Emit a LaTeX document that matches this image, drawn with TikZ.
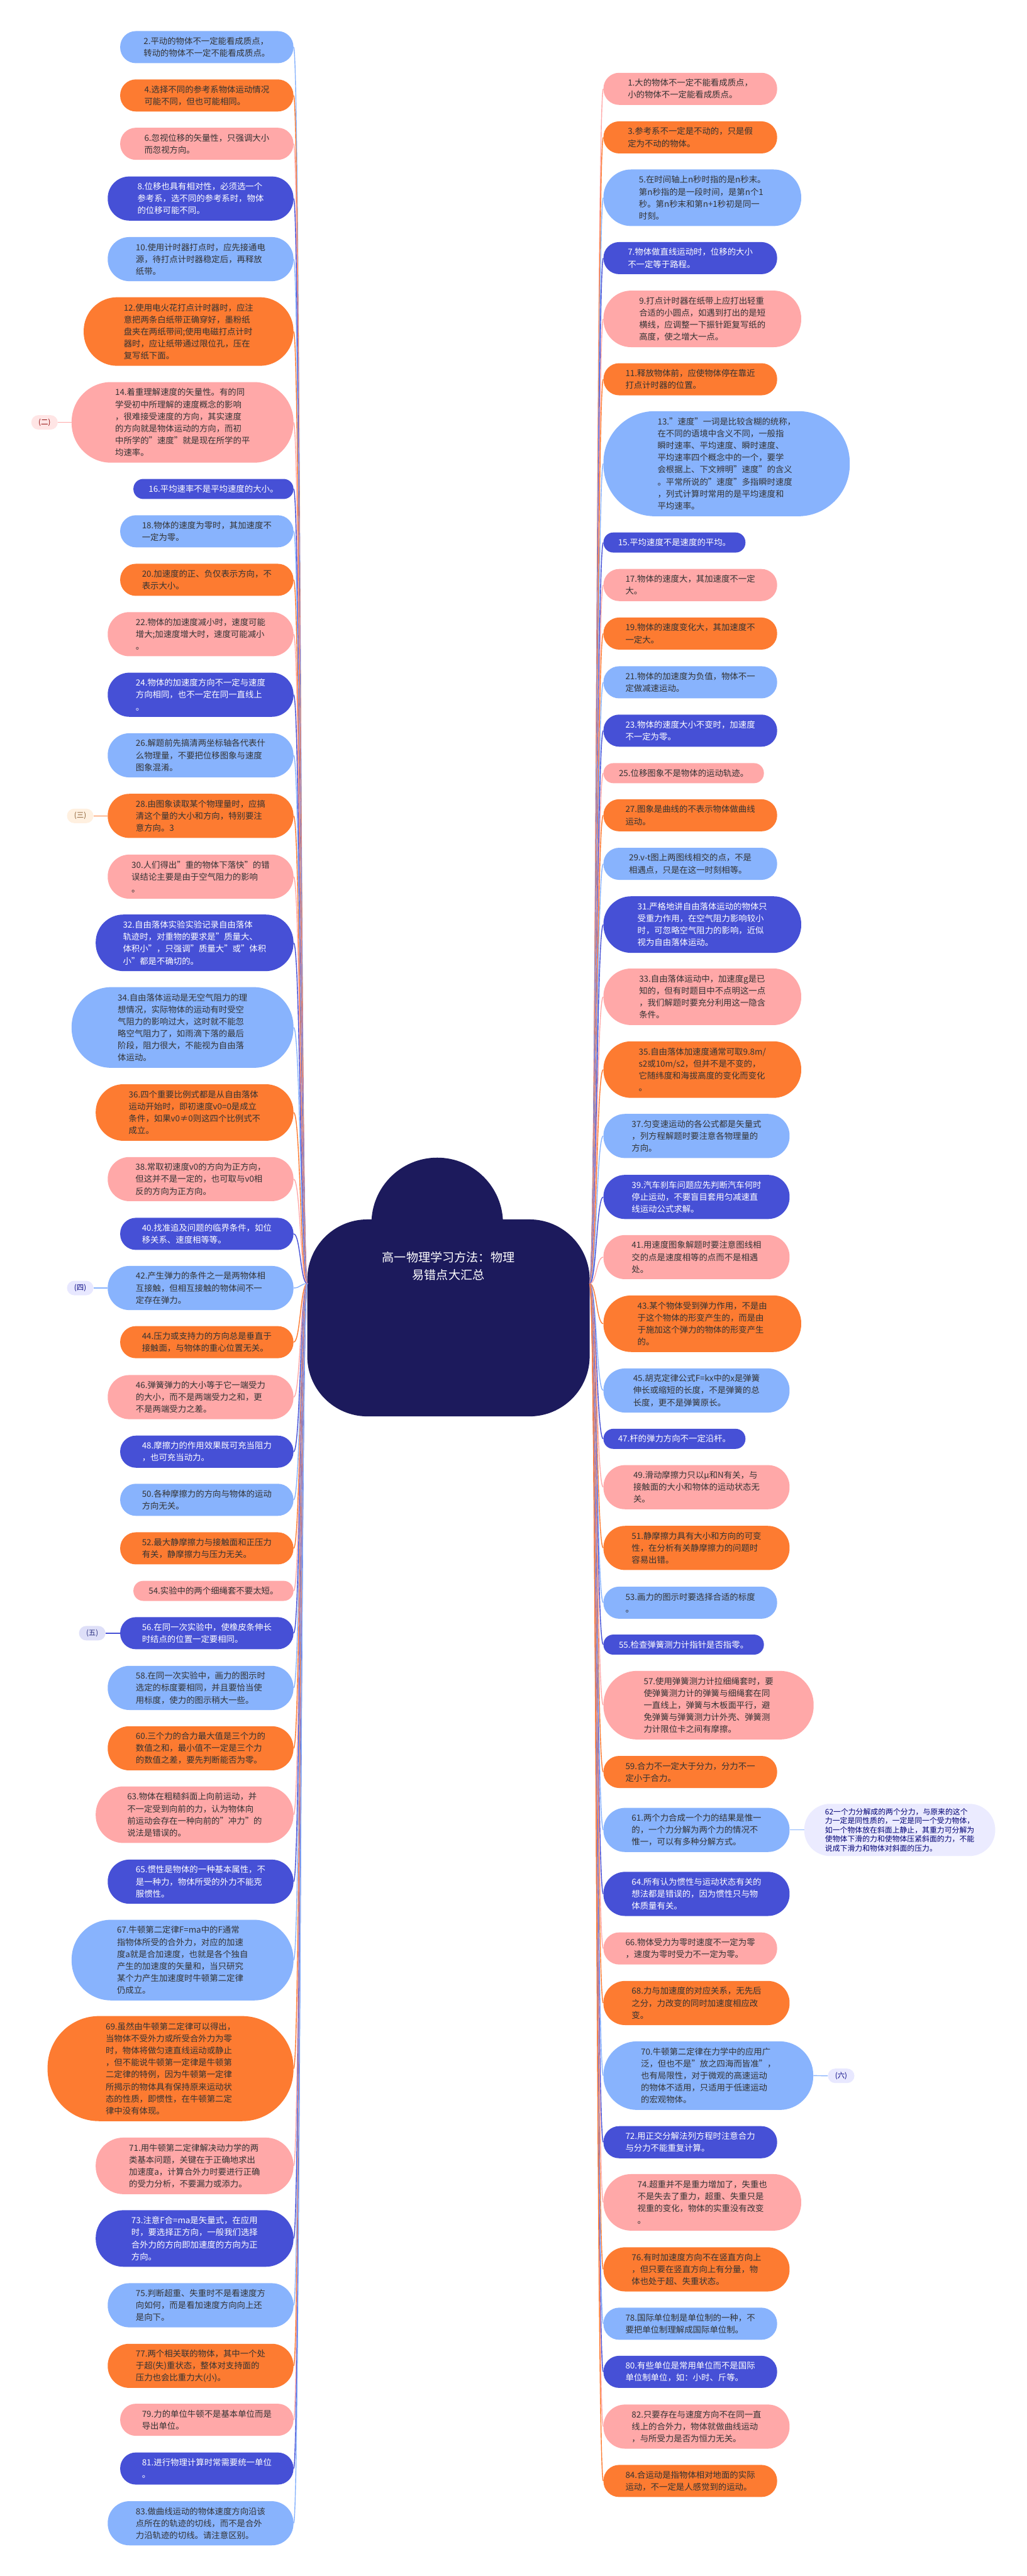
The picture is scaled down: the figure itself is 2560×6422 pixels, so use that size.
\documentclass[tikz,border=0pt]{standalone}
\usepackage{fontspec}
\setmainfont{Noto Sans CJK SC}
\usepackage{tikz}
\usepackage{xcolor}
\usetikzlibrary{calc}
\definecolor{pinkfill}{HTML}{FFA8A8}
\definecolor{orangefill}{HTML}{FD7B31}
\definecolor{skyfill}{HTML}{88B3FD}
\definecolor{indigofill}{HTML}{4650D6}
\definecolor{rootfill}{HTML}{1C1A5C}
\definecolor{itemtext}{HTML}{333333}
\tikzstyle{item} =
  [ rectangle
  , align=left
  , inner sep=0pt
  , font=\fontsize{10.5pt}{15pt}\selectfont
  ]
\tikzstyle{pink_item}   = [item, fill=pinkfill, text=itemtext]
\tikzstyle{orange_item} = [item, fill=orangefill, text=itemtext]
\tikzstyle{sky_item}    = [item, fill=skyfill, text=itemtext]
\tikzstyle{indigo_item} = [item, fill=indigofill, text=white]
\tikzstyle{left_item}   = [anchor=east]
\tikzstyle{right_item}  = [anchor=west]
\tikzstyle{link}        = [line width=1.1pt]
\tikzstyle{pink_link}   = [link, draw=pinkfill]
\tikzstyle{orange_link} = [link, draw=orangefill]
\tikzstyle{sky_link}    = [link, draw=skyfill]
\tikzstyle{indigo_link} = [link, draw=indigofill]
\tikzstyle{side_tag} =
  [ rectangle
  , rounded corners=9pt
  , minimum width=33pt
  , minimum height=18pt
  , inner sep=0pt
  , font=\fontsize{9pt}{11pt}\selectfont
  ]
\tikzstyle{root_label} =
  [ align=center
  , text=white
  , font=\fontsize{15pt}{22pt}\selectfont
  ]
\tikzstyle{side_note} =
  [ rectangle
  , rounded corners=32pt
  , fill=blue!8
  , text=blue!45!black
  , align=left
  , inner sep=0pt
  , minimum width=238pt
  , minimum height=65pt
  , font=\fontsize{9.3pt}{11.4pt}\selectfont
  ]
\tikzset{item_size/.style 2 args={minimum width=#1*0.5pt, minimum height=#2*0.5pt, rounded corners=#2*0.245pt}}

\begin{document}
\begin{tikzpicture}[x=0.5pt, y=-0.5pt]
  \useasboundingbox (0,0) rectangle (2560,6422);
  \fill[white] (0,0) rectangle (2560,6422);

  \fill[rootfill] (766,3040) [rounded corners=75pt] rectangle (1470,3531);
  \fill[rootfill] (1090,3050) circle [radius=82pt];
  \node[root_label] (root) at (1118,3156) {高一物理学习方法：物理\\易错点大汇总};
  \coordinate (lroot) at (766,3200);
  \coordinate (rroot) at (1470,3200);

  % left side
  \node[sky_item,left_item,item_size={432}{80}] (n2) at (732,117.5) {2.平动的物体不一定能看成质点，\\转动的物体不一定不能看成质点。};
  \draw[sky_link] (lroot) .. controls +(-17,0) and +(17,0) .. (n2.east);
  \node[orange_item,left_item,item_size={432}{80}] (n4) at (732,238) {4.选择不同的参考系物体运动情况\\可能不同，但也可能相同。};
  \draw[orange_link] (lroot) .. controls +(-17,0) and +(17,0) .. (n4.east);
  \node[pink_item,left_item,item_size={432}{80}] (n6) at (732,358.5) {6.忽视位移的矢量性，只强调大小\\而忽视方向。};
  \draw[pink_link] (lroot) .. controls +(-17,0) and +(17,0) .. (n6.east);
  \node[indigo_item,left_item,item_size={463}{110}] (n8) at (732,495) {8.位移也具有相对性，必须选一个\\参考系，选不同的参考系时，物体\\的位移可能不同。};
  \draw[indigo_link] (lroot) .. controls +(-17,0) and +(17,0) .. (n8.east);
  \node[sky_item,left_item,item_size={463}{110}] (n10) at (732,646) {10.使用计时器打点时，应先接通电\\源，待打点计时器稳定后，再释放\\纸带。};
  \draw[sky_link] (lroot) .. controls +(-17,0) and +(17,0) .. (n10.east);
  \node[orange_item,left_item,item_size={523}{171}] (n12) at (732,826.5) {12.使用电火花打点计时器时，应注\\意把两条白纸带正确穿好，墨粉纸\\盘夹在两纸带间;使用电磁打点计时\\器时，应让纸带通过限位孔，压在\\复写纸下面。};
  \draw[orange_link] (lroot) .. controls +(-17,0) and +(17,0) .. (n12.east);
  \node[pink_item,left_item,item_size={553}{201}] (n14) at (732,1053) {14.着重理解速度的矢量性。有的同\\学受初中所理解的速度概念的影响\\，很难接受速度的方向，其实速度\\的方向就是物体运动的方向，而初\\中所学的"速度"就是现在所学的平\\均速率。};
  \draw[pink_link] (lroot) .. controls +(-17,0) and +(17,0) .. (n14.east);
  \node[indigo_item,left_item,item_size={399}{50}] (n16) at (732,1219) {16.平均速率不是平均速度的大小。};
  \draw[indigo_link] (lroot) .. controls +(-17,0) and +(17,0) .. (n16.east);
  \node[sky_item,left_item,item_size={432}{80}] (n18) at (732,1324.5) {18.物体的速度为零时，其加速度不\\一定为零。};
  \draw[sky_link] (lroot) .. controls +(-17,0) and +(17,0) .. (n18.east);
  \node[orange_item,left_item,item_size={432}{80}] (n20) at (732,1445.5) {20.加速度的正、负仅表示方向，不\\表示大小。};
  \draw[orange_link] (lroot) .. controls +(-17,0) and +(17,0) .. (n20.east);
  \node[pink_item,left_item,item_size={463}{110}] (n22) at (732,1581) {22.物体的加速度减小时，速度可能\\增大;加速度增大时，速度可能减小\\。};
  \draw[pink_link] (lroot) .. controls +(-17,0) and +(17,0) .. (n22.east);
  \node[indigo_item,left_item,item_size={463}{110}] (n24) at (732,1732) {24.物体的加速度方向不一定与速度\\方向相同，也不一定在同一直线上\\。};
  \draw[indigo_link] (lroot) .. controls +(-17,0) and +(17,0) .. (n24.east);
  \node[sky_item,left_item,item_size={463}{110}] (n26) at (732,1883) {26.解题前先搞清两坐标轴各代表什\\么物理量，不要把位移图象与速度\\图象混淆。};
  \draw[sky_link] (lroot) .. controls +(-17,0) and +(17,0) .. (n26.east);
  \node[orange_item,left_item,item_size={463}{110}] (n28) at (732,2034) {28.由图象读取某个物理量时，应搞\\清这个量的大小和方向，特别要注\\意方向。3};
  \draw[orange_link] (lroot) .. controls +(-17,0) and +(17,0) .. (n28.east);
  \node[pink_item,left_item,item_size={463}{110}] (n30) at (732,2185.5) {30.人们得出"重的物体下落快"的错\\误结论主要是由于空气阻力的影响\\。};
  \draw[pink_link] (lroot) .. controls +(-17,0) and +(17,0) .. (n30.east);
  \node[indigo_item,left_item,item_size={493}{141}] (n32) at (732,2350.5) {32.自由落体实验实验记录自由落体\\轨迹时，对重物的要求是"质量大、\\体积小"，只强调"质量大"或"体积\\小"都是不确切的。};
  \draw[indigo_link] (lroot) .. controls +(-17,0) and +(17,0) .. (n32.east);
  \node[sky_item,left_item,item_size={553}{201}] (n34) at (732,2561.5) {34.自由落体运动是无空气阻力的理\\想情况，实际物体的运动有时受空\\气阻力的影响过大，这时就不能忽\\略空气阻力了，如雨滴下落的最后\\阶段，阻力很大，不能视为自由落\\体运动。};
  \draw[sky_link] (lroot) .. controls +(-17,0) and +(17,0) .. (n34.east);
  \node[orange_item,left_item,item_size={493}{141}] (n36) at (732,2773.5) {36.四个重要比例式都是从自由落体\\运动开始时，即初速度v0=0是成立\\条件，如果v0≠0则这四个比例式不\\成立。};
  \draw[orange_link] (lroot) .. controls +(-17,0) and +(17,0) .. (n36.east);
  \node[pink_item,left_item,item_size={463}{110}] (n38) at (732,2939.5) {38.常取初速度v0的方向为正方向，\\但这并不是一定的，也可取与v0相\\反的方向为正方向。};
  \draw[pink_link] (lroot) .. controls +(-17,0) and +(17,0) .. (n38.east);
  \node[indigo_item,left_item,item_size={432}{80}] (n40) at (732,3076) {40.找准追及问题的临界条件，如位\\移关系、速度相等等。};
  \draw[indigo_link] (lroot) .. controls +(-17,0) and +(17,0) .. (n40.east);
  \node[sky_item,left_item,item_size={463}{110}] (n42) at (732,3211) {42.产生弹力的条件之一是两物体相\\互接触，但相互接触的物体间不一\\定存在弹力。};
  \draw[sky_link] (lroot) .. controls +(-17,0) and +(17,0) .. (n42.east);
  \node[orange_item,left_item,item_size={432}{80}] (n44) at (732,3346) {44.压力或支持力的方向总是垂直于\\接触面，与物体的重心位置无关。};
  \draw[orange_link] (lroot) .. controls +(-17,0) and +(17,0) .. (n44.east);
  \node[pink_item,left_item,item_size={463}{110}] (n46) at (732,3483) {46.弹簧弹力的大小等于它一端受力\\的大小，而不是两端受力之和，更\\不是两端受力之差。};
  \draw[pink_link] (lroot) .. controls +(-17,0) and +(17,0) .. (n46.east);
  \node[indigo_item,left_item,item_size={432}{80}] (n48) at (732,3619) {48.摩擦力的作用效果既可充当阻力\\，也可充当动力。};
  \draw[indigo_link] (lroot) .. controls +(-17,0) and +(17,0) .. (n48.east);
  \node[sky_item,left_item,item_size={432}{80}] (n50) at (732,3739) {50.各种摩擦力的方向与物体的运动\\方向无关。};
  \draw[sky_link] (lroot) .. controls +(-17,0) and +(17,0) .. (n50.east);
  \node[orange_item,left_item,item_size={432}{80}] (n52) at (732,3860) {52.最大静摩擦力与接触面和正压力\\有关，静摩擦力与压力无关。};
  \draw[orange_link] (lroot) .. controls +(-17,0) and +(17,0) .. (n52.east);
  \node[pink_item,left_item,item_size={399}{50}] (n54) at (732,3966) {54.实验中的两个细绳套不要太短。};
  \draw[pink_link] (lroot) .. controls +(-17,0) and +(17,0) .. (n54.east);
  \node[indigo_item,left_item,item_size={432}{80}] (n56) at (732,4071.5) {56.在同一次实验中，使橡皮条伸长\\时结点的位置一定要相同。};
  \draw[indigo_link] (lroot) .. controls +(-17,0) and +(17,0) .. (n56.east);
  \node[sky_item,left_item,item_size={463}{110}] (n58) at (732,4208) {58.在同一次实验中，画力的图示时\\选定的标度要相同，并且要恰当使\\用标度，使力的图示稍大一些。};
  \draw[sky_link] (lroot) .. controls +(-17,0) and +(17,0) .. (n58.east);
  \node[orange_item,left_item,item_size={463}{110}] (n60) at (732,4358.5) {60.三个力的合力最大值是三个力的\\数值之和，最小值不一定是三个力\\的数值之差，要先判断能否为零。};
  \draw[orange_link] (lroot) .. controls +(-17,0) and +(17,0) .. (n60.east);
  \node[pink_item,left_item,item_size={493}{141}] (n63) at (732,4524) {63.物体在粗糙斜面上向前运动，并\\不一定受到向前的力，认为物体向\\前运动会存在一种向前的"冲力"的\\说法是错误的。};
  \draw[pink_link] (lroot) .. controls +(-17,0) and +(17,0) .. (n63.east);
  \node[indigo_item,left_item,item_size={463}{110}] (n65) at (732,4691) {65.惯性是物体的一种基本属性，不\\是一种力，物体所受的外力不能克\\服惯性。};
  \draw[indigo_link] (lroot) .. controls +(-17,0) and +(17,0) .. (n65.east);
  \node[sky_item,left_item,item_size={553}{201}] (n67) at (732,4886.5) {67.牛顿第二定律F=ma中的F通常\\指物体所受的合外力，对应的加速\\度a就是合加速度，也就是各个独自\\产生的加速度的矢量和，当只研究\\某个力产生加速度时牛顿第二定律\\仍成立。};
  \draw[sky_link] (lroot) .. controls +(-17,0) and +(17,0) .. (n67.east);
  \node[orange_item,left_item,item_size={613}{262}] (n69) at (732,5157) {69.虽然由牛顿第二定律可以得出，\\当物体不受外力或所受合外力为零\\时，物体将做匀速直线运动或静止\\，但不能说牛顿第一定律是牛顿第\\二定律的特例，因为牛顿第一定律\\所揭示的物体具有保持原来运动状\\态的性质，即惯性，在牛顿第二定\\律中没有体现。};
  \draw[orange_link] (lroot) .. controls +(-17,0) and +(17,0) .. (n69.east);
  \node[pink_item,left_item,item_size={493}{141}] (n71) at (732,5399.5) {71.用牛顿第二定律解决动力学的两\\类基本问题，关键在于正确地求出\\加速度a，计算合外力时要进行正确\\的受力分析，不要漏力或添力。};
  \draw[pink_link] (lroot) .. controls +(-17,0) and +(17,0) .. (n71.east);
  \node[indigo_item,left_item,item_size={493}{141}] (n73) at (732,5580.5) {73.注意F合=ma是矢量式，在应用\\时，要选择正方向，一般我们选择\\合外力的方向即加速度的方向为正\\方向。};
  \draw[indigo_link] (lroot) .. controls +(-17,0) and +(17,0) .. (n73.east);
  \node[sky_item,left_item,item_size={463}{110}] (n75) at (732,5747) {75.判断超重、失重时不是看速度方\\向如何，而是看加速度方向向上还\\是向下。};
  \draw[sky_link] (lroot) .. controls +(-17,0) and +(17,0) .. (n75.east);
  \node[orange_item,left_item,item_size={463}{110}] (n77) at (732,5898) {77.两个相关联的物体，其中一个处\\于超(失)重状态，整体对支持面的\\压力也会比重力大(小)。};
  \draw[orange_link] (lroot) .. controls +(-17,0) and +(17,0) .. (n77.east);
  \node[pink_item,left_item,item_size={432}{80}] (n79) at (732,6032.5) {79.力的单位牛顿不是基本单位而是\\导出单位。};
  \draw[pink_link] (lroot) .. controls +(-17,0) and +(17,0) .. (n79.east);
  \node[indigo_item,left_item,item_size={432}{80}] (n81) at (732,6154) {81.进行物理计算时常需要统一单位\\。};
  \draw[indigo_link] (lroot) .. controls +(-17,0) and +(17,0) .. (n81.east);
  \node[sky_item,left_item,item_size={463}{110}] (n83) at (732,6290.5) {83.做曲线运动的物体速度方向沿该\\点所在的轨迹的切线，而不是合外\\力沿轨迹的切线。请注意区别。};
  \draw[sky_link] (lroot) .. controls +(-17,0) and +(17,0) .. (n83.east);

  % tags on the left
  \node[side_tag,fill=red!10,text=red!55!black] (tag2) at (111,1053) {(二)};
  \draw[pink_link] (tag2.east) -- (n14.west);
  \node[side_tag,fill=orange!12,text=brown!70!black] (tag3) at (200,2034) {(三)};
  \draw[orange_link] (tag3.east) -- (n28.west);
  \node[side_tag,fill=blue!9,text=blue!50!black] (tag4) at (200,3211) {(四)};
  \draw[sky_link] (tag4.east) -- (n42.west);
  \node[side_tag,fill=indigofill!18,text=indigofill!60!black] (tag5) at (230,4071.5) {(五)};
  \draw[indigo_link] (tag5.east) -- (n56.west);

  % right side
  \node[pink_item,right_item,item_size={433}{80}] (n1) at (1504,221.5) {1.大的物体不一定不能看成质点，\\小的物体不一定能看成质点。};
  \draw[pink_link] (rroot) .. controls +(17,0) and +(-17,0) .. (n1.west);
  \node[orange_item,right_item,item_size={433}{80}] (n3) at (1504,342.5) {3.参考系不一定是不动的，只是假\\定为不动的物体。};
  \draw[orange_link] (rroot) .. controls +(17,0) and +(-17,0) .. (n3.west);
  \node[sky_item,right_item,item_size={493}{141}] (n5) at (1504,493) {5.在时间轴上n秒时指的是n秒末。\\第n秒指的是一段时间，是第n个1\\秒。第n秒末和第n+1秒初是同一\\时刻。};
  \draw[sky_link] (rroot) .. controls +(17,0) and +(-17,0) .. (n5.west);
  \node[indigo_item,right_item,item_size={433}{80}] (n7) at (1504,643.5) {7.物体做直线运动时，位移的大小\\不一定等于路程。};
  \draw[indigo_link] (rroot) .. controls +(17,0) and +(-17,0) .. (n7.west);
  \node[pink_item,right_item,item_size={493}{141}] (n9) at (1504,795) {9.打点计时器在纸带上应打出轻重\\合适的小圆点，如遇到打出的是短\\横线，应调整一下振针距复写纸的\\高度，使之增大一点。};
  \draw[pink_link] (rroot) .. controls +(17,0) and +(-17,0) .. (n9.west);
  \node[orange_item,right_item,item_size={433}{80}] (n11) at (1504,945.5) {11.释放物体前，应使物体停在靠近\\打点计时器的位置。};
  \draw[orange_link] (rroot) .. controls +(17,0) and +(-17,0) .. (n11.west);
  \node[sky_item,right_item,item_size={614}{262}] (n13) at (1504,1156) {13."速度"一词是比较含糊的统称，\\在不同的语境中含义不同，一般指\\瞬时速率、平均速度、瞬时速度、\\平均速率四个概念中的一个，要学\\会根据上、下文辨明"速度"的含义\\。平常所说的"速度"多指瞬时速度\\，列式计算时常用的是平均速度和\\平均速率。};
  \draw[sky_link] (rroot) .. controls +(17,0) and +(-17,0) .. (n13.west);
  \node[indigo_item,right_item,item_size={354}{50}] (n15) at (1504,1352.5) {15.平均速度不是速度的平均。};
  \draw[indigo_link] (rroot) .. controls +(17,0) and +(-17,0) .. (n15.west);
  \node[pink_item,right_item,item_size={433}{80}] (n17) at (1504,1458.5) {17.物体的速度大，其加速度不一定\\大。};
  \draw[pink_link] (rroot) .. controls +(17,0) and +(-17,0) .. (n17.west);
  \node[orange_item,right_item,item_size={433}{80}] (n19) at (1504,1579.5) {19.物体的速度变化大，其加速度不\\一定大。};
  \draw[orange_link] (rroot) .. controls +(17,0) and +(-17,0) .. (n19.west);
  \node[sky_item,right_item,item_size={433}{80}] (n21) at (1504,1701) {21.物体的加速度为负值，物体不一\\定做减速运动。};
  \draw[sky_link] (rroot) .. controls +(17,0) and +(-17,0) .. (n21.west);
  \node[indigo_item,right_item,item_size={433}{80}] (n23) at (1504,1821.5) {23.物体的速度大小不变时，加速度\\不一定为零。};
  \draw[indigo_link] (rroot) .. controls +(17,0) and +(-17,0) .. (n23.west);
  \node[pink_item,right_item,item_size={400}{50}] (n25) at (1504,1927.5) {25.位移图象不是物体的运动轨迹。};
  \draw[pink_link] (rroot) .. controls +(17,0) and +(-17,0) .. (n25.west);
  \node[orange_item,right_item,item_size={433}{80}] (n27) at (1504,2032.5) {27.图象是曲线的不表示物体做曲线\\运动。};
  \draw[orange_link] (rroot) .. controls +(17,0) and +(-17,0) .. (n27.west);
  \node[sky_item,right_item,item_size={433}{80}] (n29) at (1504,2153.5) {29.v-t图上两图线相交的点，不是\\相遇点，只是在这一时刻相等。};
  \draw[sky_link] (rroot) .. controls +(17,0) and +(-17,0) .. (n29.west);
  \node[indigo_item,right_item,item_size={493}{141}] (n31) at (1504,2305) {31.严格地讲自由落体运动的物体只\\受重力作用，在空气阻力影响较小\\时，可忽略空气阻力的影响，近似\\视为自由落体运动。};
  \draw[indigo_link] (rroot) .. controls +(17,0) and +(-17,0) .. (n31.west);
  \node[pink_item,right_item,item_size={493}{141}] (n33) at (1504,2485) {33.自由落体运动中，加速度g是已\\知的，但有时题目中不点明这一点\\，我们解题时要充分利用这一隐含\\条件。};
  \draw[pink_link] (rroot) .. controls +(17,0) and +(-17,0) .. (n33.west);
  \node[orange_item,right_item,item_size={493}{141}] (n35) at (1504,2666.5) {35.自由落体加速度通常可取9.8m/\\s2或10m/s2，但并不是不变的，\\它随纬度和海拔高度的变化而变化\\。};
  \draw[orange_link] (rroot) .. controls +(17,0) and +(-17,0) .. (n35.west);
  \node[sky_item,right_item,item_size={464}{110}] (n37) at (1504,2832) {37.匀变速运动的各公式都是矢量式\\，列方程解题时要注意各物理量的\\方向。};
  \draw[sky_link] (rroot) .. controls +(17,0) and +(-17,0) .. (n37.west);
  \node[indigo_item,right_item,item_size={464}{110}] (n39) at (1504,2984) {39.汽车刹车问题应先判断汽车何时\\停止运动，不要盲目套用匀减速直\\线运动公式求解。};
  \draw[indigo_link] (rroot) .. controls +(17,0) and +(-17,0) .. (n39.west);
  \node[pink_item,right_item,item_size={464}{110}] (n41) at (1504,3134) {41.用速度图象解题时要注意图线相\\交的点是速度相等的点而不是相遇\\处。};
  \draw[pink_link] (rroot) .. controls +(17,0) and +(-17,0) .. (n41.west);
  \node[orange_item,right_item,item_size={493}{141}] (n43) at (1504,3300) {43.某个物体受到弹力作用，不是由\\于这个物体的形变产生的，而是由\\于施加这个弹力的物体的形变产生\\的。};
  \draw[orange_link] (rroot) .. controls +(17,0) and +(-17,0) .. (n43.west);
  \node[sky_item,right_item,item_size={464}{110}] (n45) at (1504,3466.5) {45.胡克定律公式F=kx中的x是弹簧\\伸长或缩短的长度，不是弹簧的总\\长度，更不是弹簧原长。};
  \draw[sky_link] (rroot) .. controls +(17,0) and +(-17,0) .. (n45.west);
  \node[indigo_item,right_item,item_size={354}{50}] (n47) at (1504,3587) {47.杆的弹力方向不一定沿杆。};
  \draw[indigo_link] (rroot) .. controls +(17,0) and +(-17,0) .. (n47.west);
  \node[pink_item,right_item,item_size={464}{110}] (n49) at (1504,3707.5) {49.滑动摩擦力只以μ和N有关，与\\接触面的大小和物体的运动状态无\\关。};
  \draw[pink_link] (rroot) .. controls +(17,0) and +(-17,0) .. (n49.west);
  \node[orange_item,right_item,item_size={464}{110}] (n51) at (1504,3859) {51.静摩擦力具有大小和方向的可变\\性，在分析有关静摩擦力的问题时\\容易出错。};
  \draw[orange_link] (rroot) .. controls +(17,0) and +(-17,0) .. (n51.west);
  \node[sky_item,right_item,item_size={433}{80}] (n53) at (1504,3995.5) {53.画力的图示时要选择合适的标度\\。};
  \draw[sky_link] (rroot) .. controls +(17,0) and +(-17,0) .. (n53.west);
  \node[indigo_item,right_item,item_size={400}{50}] (n55) at (1504,4100) {55.检查弹簧测力计指针是否指零。};
  \draw[indigo_link] (rroot) .. controls +(17,0) and +(-17,0) .. (n55.west);
  \node[pink_item,right_item,item_size={524}{171}] (n57) at (1504,4251) {57.使用弹簧测力计拉细绳套时，要\\使弹簧测力计的弹簧与细绳套在同\\一直线上，弹簧与木板面平行，避\\免弹簧与弹簧测力计外壳、弹簧测\\力计限位卡之间有摩擦。};
  \draw[pink_link] (rroot) .. controls +(17,0) and +(-17,0) .. (n57.west);
  \node[orange_item,right_item,item_size={433}{80}] (n59) at (1504,4417.5) {59.合力不一定大于分力，分力不一\\定小于合力。};
  \draw[orange_link] (rroot) .. controls +(17,0) and +(-17,0) .. (n59.west);
  \node[sky_item,right_item,item_size={464}{110}] (n61) at (1504,4562) {61.两个力合成一个力的结果是惟一\\的，一个力分解为两个力的情况不\\惟一，可以有多种分解方式。};
  \draw[sky_link] (rroot) .. controls +(17,0) and +(-17,0) .. (n61.west);
  \node[indigo_item,right_item,item_size={464}{110}] (n64) at (1504,4721.5) {64.所有认为惯性与运动状态有关的\\想法都是错误的，因为惯性只与物\\体质量有关。};
  \draw[indigo_link] (rroot) .. controls +(17,0) and +(-17,0) .. (n64.west);
  \node[pink_item,right_item,item_size={433}{80}] (n66) at (1504,4857.5) {66.物体受力为零时速度不一定为零\\，速度为零时受力不一定为零。};
  \draw[pink_link] (rroot) .. controls +(17,0) and +(-17,0) .. (n66.west);
  \node[orange_item,right_item,item_size={464}{110}] (n68) at (1504,4993.5) {68.力与加速度的对应关系，无先后\\之分，力改变的同时加速度相应改\\变。};
  \draw[orange_link] (rroot) .. controls +(17,0) and +(-17,0) .. (n68.west);
  \node[sky_item,right_item,item_size={523}{171}] (n70) at (1504,5174.5) {70.牛顿第二定律在力学中的应用广\\泛，但也不是"放之四海而皆准"，\\也有局限性，对于微观的高速运动\\的物体不适用，只适用于低速运动\\的宏观物体。};
  \draw[sky_link] (rroot) .. controls +(17,0) and +(-17,0) .. (n70.west);
  \node[indigo_item,right_item,item_size={433}{80}] (n72) at (1504,5340.5) {72.用正交分解法列方程时注意合力\\与分力不能重复计算。};
  \draw[indigo_link] (rroot) .. controls +(17,0) and +(-17,0) .. (n72.west);
  \node[pink_item,right_item,item_size={493}{141}] (n74) at (1504,5490.5) {74.超重并不是重力增加了，失重也\\不是失去了重力，超重、失重只是\\视重的变化，物体的实重没有改变\\。};
  \draw[pink_link] (rroot) .. controls +(17,0) and +(-17,0) .. (n74.west);
  \node[orange_item,right_item,item_size={464}{110}] (n76) at (1504,5657.5) {76.有时加速度方向不在竖直方向上\\，但只要在竖直方向上有分量，物\\体也处于超、失重状态。};
  \draw[orange_link] (rroot) .. controls +(17,0) and +(-17,0) .. (n76.west);
  \node[sky_item,right_item,item_size={433}{80}] (n78) at (1504,5793) {78.国际单位制是单位制的一种，不\\要把单位制理解成国际单位制。};
  \draw[sky_link] (rroot) .. controls +(17,0) and +(-17,0) .. (n78.west);
  \node[indigo_item,right_item,item_size={433}{80}] (n80) at (1504,5913) {80.有些单位是常用单位而不是国际\\单位制单位，如：小时、斤等。};
  \draw[indigo_link] (rroot) .. controls +(17,0) and +(-17,0) .. (n80.west);
  \node[pink_item,right_item,item_size={464}{110}] (n82) at (1504,6049.5) {82.只要存在与速度方向不在同一直\\线上的合外力，物体就做曲线运动\\，与所受力是否为恒力无关。};
  \draw[pink_link] (rroot) .. controls +(17,0) and +(-17,0) .. (n82.west);
  \node[orange_item,right_item,item_size={433}{80}] (n84) at (1504,6185) {84.合运动是指物体相对地面的实际\\运动，不一定是人感觉到的运动。};
  \draw[orange_link] (rroot) .. controls +(17,0) and +(-17,0) .. (n84.west);

  % extras on the right
  \node[side_note] (note62) at (2243,4562) {62一个力分解成的两个分力，与原来的这个\\力一定是同性质的，一定是同一个受力物体，\\如一个物体放在斜面上静止，其重力可分解为\\使物体下滑的力和使物体压紧斜面的力，不能\\说成下滑力和物体对斜面的压力。};
  \draw[sky_link] (n61.east) -- (note62.west);
  \node[side_tag,fill=blue!9,text=blue!50!black] (tag6) at (2097,5175) {(六)};
  \draw[sky_link] (n70.east) -- (tag6.west);
\end{tikzpicture}
\end{document}
